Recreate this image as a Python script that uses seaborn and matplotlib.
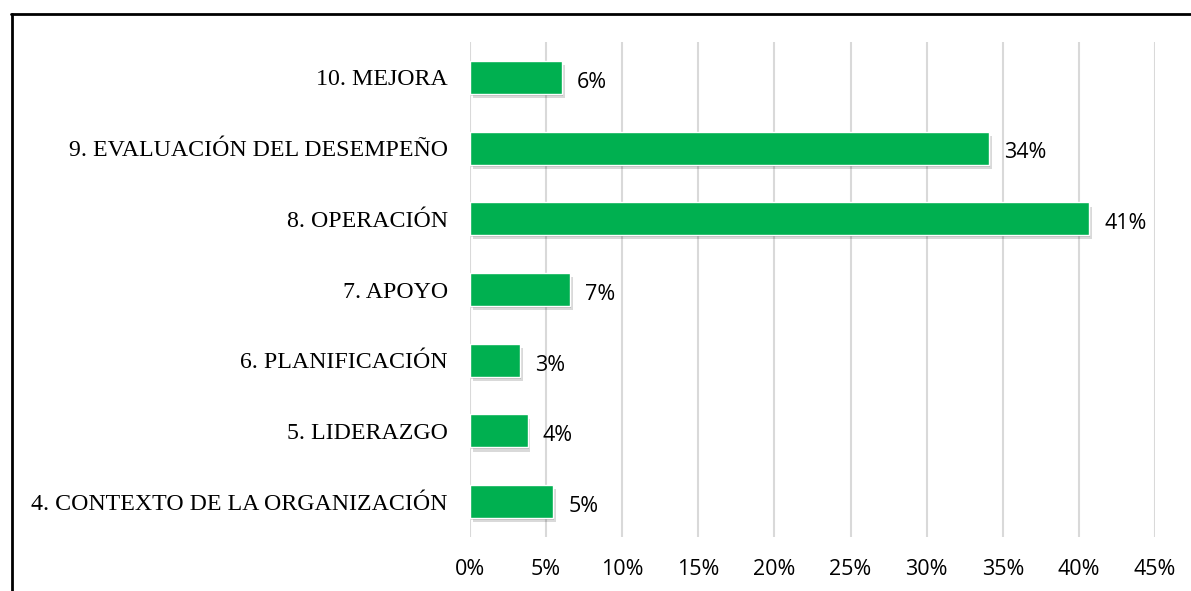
import numpy as np
import pandas as pd
import matplotlib
matplotlib.use("Agg")
import matplotlib.pyplot as plt
import matplotlib.patheffects as pe
from matplotlib.lines import Line2D
from matplotlib.ticker import PercentFormatter
import seaborn as sns

# data, top to bottom
categories = ["10. MEJORA", "9. EVALUACIÓN DEL DESEMPEÑO", "8. OPERACIÓN",
              "7. APOYO", "6. PLANIFICACIÓN", "5. LIDERAZGO",
              "4. CONTEXTO DE LA ORGANIZACIÓN"]
values = [6.04, 34.1, 40.67, 6.57, 3.29, 3.79, 5.45]
x_ticks = [0, 5, 10, 15, 20, 25, 30, 35, 40, 45]

df = pd.DataFrame({"cat": categories, "val": values})

sns.set_style("white")
plt.rcParams["text.color"] = "black"
plt.rcParams["xtick.color"] = "black"
plt.rcParams["ytick.color"] = "black"

fig = plt.figure(figsize=(11.91, 5.91), dpi=100)
ax = fig.add_axes([470 / 1191, 1 - 537 / 591, 685 / 1191, 495 / 591])

sns.barplot(data=df, x="val", y="cat", orient="h", color="#00B050",
            saturation=1, width=0.465, ax=ax, zorder=3)

for p in ax.patches:
    p.set_path_effects([pe.SimplePatchShadow(offset=(2, -3), shadow_rgbFace="k", alpha=0.15),
                        pe.SimplePatchShadow(offset=(1, -1.5), shadow_rgbFace="k", alpha=0.15),
                        pe.Normal()])

ax.set_xlim(0, 45)
ax.set_xticks(x_ticks)
ax.xaxis.set_major_formatter(PercentFormatter(decimals=0))
ax.grid(axis="x", color="#D9D9D9", linewidth=1.5, zorder=0)
ax.grid(axis="y", visible=False)
for s in ax.spines.values():
    s.set_visible(False)
ax.set_xlabel("")
ax.set_ylabel("")
ax.tick_params(axis="both", length=0)
ax.tick_params(axis="x", pad=16)
ax.tick_params(axis="y", pad=16)

for lab in ax.get_yticklabels():
    lab.set_fontfamily("Liberation Serif")
    lab.set_fontsize(17.2)
for lab in ax.get_xticklabels():
    lab.set_fontfamily("Open Sans")
    lab.set_fontsize(15.5)

# value labels next to the bars
for p, v in zip(ax.patches, values):
    ax.annotate(f"{round(v)}%", (p.get_width(), p.get_y() + p.get_height() / 2),
                xytext=(11, -3.5), textcoords="offset points", va="center",
                fontsize=15.5, fontfamily="Open Sans")

# outer frame (top and left edges visible)
fig.add_artist(Line2D([11 / 1191, 1], [1 - 14 / 591, 1 - 14 / 591],
                      color="black", linewidth=2, transform=fig.transFigure))
fig.add_artist(Line2D([12 / 1191, 12 / 1191], [0, 1 - 14 / 591],
                      color="black", linewidth=2, transform=fig.transFigure))

fig.savefig("out.png", dpi=100)
